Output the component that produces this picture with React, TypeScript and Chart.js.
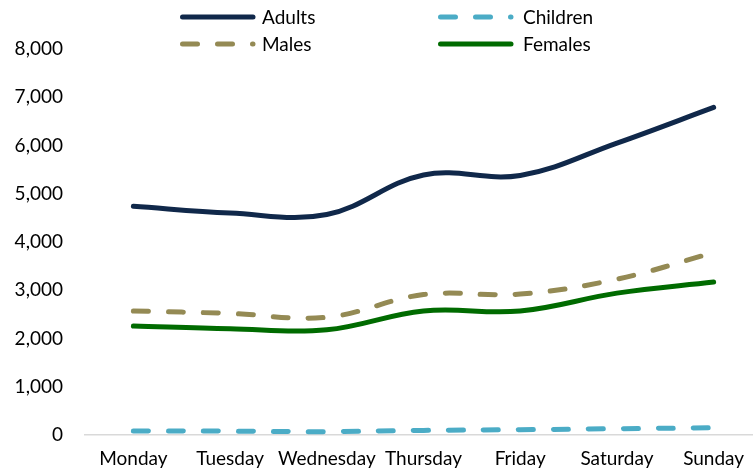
import React, { useEffect, useRef } from "react";
import { Chart, registerables } from "chart.js";

Chart.register(...registerables);

const days = ["Monday", "Tuesday", "Wednesday", "Thursday", "Friday", "Saturday", "Sunday"];
const adults = [4740, 4600, 4570, 5390, 5380, 6050, 6790];
const children = [85, 80, 70, 95, 110, 130, 150];
const males = [2570, 2520, 2440, 2910, 2920, 3230, 3780];
const females = [2260, 2200, 2180, 2570, 2570, 2940, 3170];
const seriesNames = ["Adults", "Children", "Males", "Females"];
const yMin = 0;
const yMax = 8000;
const yStep = 1000;

const FONT = "Lato, 'Noto Sans', sans-serif";

const gridLegend = {
  id: "gridLegend",
  afterDraw(chart: any) {
    const ctx = chart.ctx as CanvasRenderingContext2D;
    ctx.save();
    chart.data.datasets.forEach((ds: any, i: number) => {
      const col = i % 2;
      const row = Math.floor(i / 2);
      const x0 = col === 0 ? 180 : 438;
      const y = row === 0 ? 17 : 44;
      ctx.beginPath();
      ctx.lineWidth = ds.borderWidth;
      ctx.strokeStyle = ds.borderColor;
      ctx.lineCap = "round";
      ctx.setLineDash(ds.borderDash || []);
      ctx.moveTo(x0 + 2.5, y);
      ctx.lineTo(x0 + 73, y);
      ctx.stroke();
      ctx.setLineDash([]);
      ctx.fillStyle = "#000";
      ctx.font = `19px ${FONT}`;
      ctx.textBaseline = "middle";
      ctx.textAlign = "left";
      ctx.fillText(ds.label, x0 + (col === 0 ? 82 : 85), y + 1);
    });
    ctx.restore();
  },
};

export default function App() {
  const ref = useRef<HTMLCanvasElement | null>(null);

  useEffect(() => {
    if (!ref.current) return;
    const common = {
      fill: false,
      pointRadius: 0,
      pointHoverRadius: 0,
      tension: 0.38,
      borderWidth: 5,
      borderCapStyle: "round" as const,
      borderJoinStyle: "round" as const,
    };
    const chart = new Chart(ref.current, {
      type: "line",
      data: {
        labels: days,
        datasets: [
          { ...common, label: seriesNames[0], data: adults, borderColor: "#10284a", backgroundColor: "#10284a" },
          { ...common, label: seriesNames[1], data: children, borderColor: "#4bacc6", backgroundColor: "#4bacc6", borderDash: [15, 20] },
          { ...common, label: seriesNames[2], data: males, borderColor: "#948a54", backgroundColor: "#948a54", borderDash: [15, 20] },
          { ...common, label: seriesNames[3], data: females, borderColor: "#006b00", backgroundColor: "#006b00" },
        ],
      },
      options: {
        responsive: false,
        animation: false,
        layout: { padding: { top: 49, right: 18, bottom: 0, left: 0 } },
        plugins: {
          legend: { display: false },
          tooltip: { enabled: false },
        },
        scales: {
          x: {
            offset: true,
            grid: { display: false, drawTicks: false },
            border: { display: true, color: "#d9d9d9", width: 1.5 },
            ticks: {
              color: "#000",
              font: { family: FONT, size: 19 },
              padding: 12,
              maxRotation: 0,
              autoSkip: false,
            },
            afterFit(scale: any) {
              scale.height = 37;
            },
          },
          y: {
            min: yMin,
            max: yMax,
            grid: { display: false, drawTicks: false },
            border: { display: false },
            ticks: {
              stepSize: yStep,
              color: "#000",
              font: { family: FONT, size: 19 },
              padding: 22,
              callback: (v: any) => Number(v).toLocaleString("en-US"),
            },
            afterFit(scale: any) {
              scale.width = 85;
            },
          },
        },
      },
      plugins: [gridLegend],
    });
    return () => chart.destroy();
  }, []);

  return (
    <div
      style={{
        position: "fixed",
        left: 0,
        top: 0,
        width: 753,
        height: 472,
        overflow: "hidden",
        background: "#fff",
      }}
    >
      <canvas ref={ref} width={780} height={472} />
    </div>
  );
}
